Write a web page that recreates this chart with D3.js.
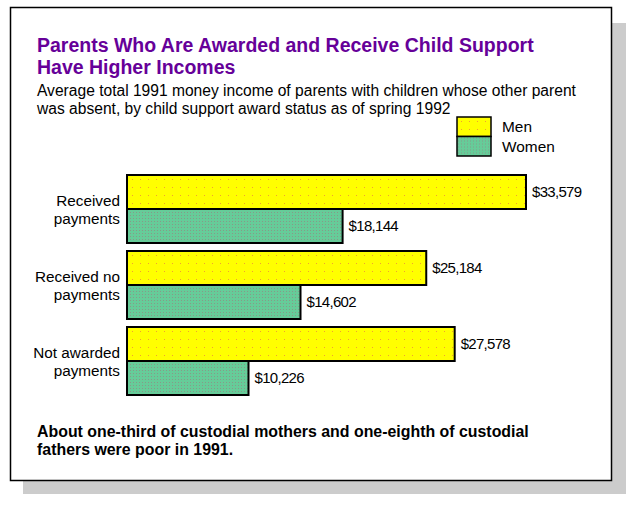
<!DOCTYPE html>
<html>
<head>
<meta charset="utf-8">
<script src="https://cdn.jsdelivr.net/npm/d3@7"></script>
<style>
  body { margin: 0; background: #fff; }
  text { font-family: "Liberation Sans", Arial, Helvetica, sans-serif; }
</style>
</head>
<body>
<div id="chart"></div>
<script>
var width = 636;
var height = 508;

var categories = [["Received", "payments"], ["Received no", "payments"], ["Not awarded", "payments"]];
var series = ["Men", "Women"];
var men = [33579, 25184, 27578];
var women = [18144, 14602, 10226];
var title = ["Parents Who Are Awarded and Receive Child Support", "Have Higher Incomes"];
var subtitle = ["Average total 1991 money income of parents with children whose other parent",
  "was absent, by child support award status as of spring 1992"];
var note = ["About one-third of custodial mothers and one-eighth of custodial",
  "fathers were poor in 1991."];

var svg = d3.select("#chart").append("svg")
  .attr("width", width)
  .attr("height", height);

// dotted fills
var defs = svg.append("defs");
var pm = defs.append("pattern").attr("id", "pat-men")
  .attr("patternUnits", "userSpaceOnUse").attr("width", 8).attr("height", 8);
pm.append("rect").attr("width", 8).attr("height", 8).attr("fill", "#ffff00");
pm.append("rect").attr("x", 4).attr("y", 4).attr("width", 1).attr("height", 1).attr("fill", "#f0a030");

var pw = defs.append("pattern").attr("id", "pat-women")
  .attr("patternUnits", "userSpaceOnUse").attr("width", 3).attr("height", 3);
pw.append("rect").attr("width", 3).attr("height", 3).attr("fill", "#66cc99");
pw.append("rect").attr("x", 1).attr("y", 1).attr("width", 1).attr("height", 1).attr("fill", "#889988");

var fills = { Men: "url(#pat-men)", Women: "url(#pat-women)" };

// shadow and frame
svg.append("rect")
  .attr("x", 23).attr("y", 23).attr("width", 603).attr("height", 471)
  .attr("fill", "#cccccc");
svg.append("rect")
  .attr("x", 10.5).attr("y", 7.5).attr("width", 601).attr("height", 473)
  .attr("fill", "#fff").attr("stroke", "#000").attr("stroke-width", 1.5);

// title, subtitle
svg.selectAll(".title").data(title).enter()
  .append("text")
  .attr("class", "title")
  .attr("x", 37)
  .attr("y", function(d, i) { return 52 + i * 22; })
  .attr("fill", "#660099")
  .attr("font-size", 19.5)
  .attr("font-weight", "bold")
  .text(function(d) { return d; });

svg.selectAll(".subtitle").data(subtitle).enter()
  .append("text")
  .attr("class", "subtitle")
  .attr("x", 37)
  .attr("y", function(d, i) { return 96 + i * 18; })
  .attr("font-size", 15.6)
  .text(function(d) { return d; });

// legend
var legend = svg.selectAll(".legend").data(series).enter()
  .append("g")
  .attr("class", "legend")
  .attr("transform", function(d, i) { return "translate(457," + (117 + i * 19.5) + ")"; });
legend.append("rect")
  .attr("width", 34).attr("height", 19.5)
  .attr("fill", function(d) { return fills[d]; })
  .attr("stroke", "#000").attr("stroke-width", 1.5);
legend.append("text")
  .attr("x", 45).attr("y", 15)
  .attr("font-size", 15.4)
  .text(function(d) { return d; });

// scales
var x = d3.scaleLinear().domain([0, 33579]).range([127, 526]);
var y = d3.scaleBand().domain(d3.range(categories.length)).range([175, 395]).paddingInner(8 / 76);
var ySub = d3.scaleBand().domain(series).range([0, y.bandwidth()]);

var rows = categories.map(function(c, i) {
  return { label: c, values: [{ s: "Men", v: men[i] }, { s: "Women", v: women[i] }] };
});

var group = svg.selectAll(".group").data(rows).enter()
  .append("g")
  .attr("class", "group")
  .attr("transform", function(d, i) { return "translate(0," + y(i) + ")"; });

group.selectAll("rect").data(function(d) { return d.values; }).enter()
  .append("rect")
  .attr("x", x(0))
  .attr("y", function(d) { return ySub(d.s); })
  .attr("width", function(d) { return x(d.v) - x(0); })
  .attr("height", ySub.bandwidth())
  .attr("fill", function(d) { return fills[d.s]; })
  .attr("stroke", "#000")
  .attr("stroke-width", 2);

group.selectAll(".val").data(function(d) { return d.values; }).enter()
  .append("text")
  .attr("class", "val")
  .attr("x", function(d) { return x(d.v) + 6; })
  .attr("y", function(d) { return ySub(d.s) + ySub.bandwidth() / 2 + 5; })
  .attr("font-size", 15)
  .attr("letter-spacing", -0.7)
  .text(function(d) { return "$" + d3.format(",")(d.v); });

group.selectAll(".cat").data(function(d) { return d.label; }).enter()
  .append("text")
  .attr("class", "cat")
  .attr("x", 120)
  .attr("y", function(d, i) { return y.bandwidth() / 2 - 3 + i * 18; })
  .attr("text-anchor", "end")
  .attr("font-size", 15.3)
  .text(function(d) { return d; });

// footnote
svg.selectAll(".note").data(note).enter()
  .append("text")
  .attr("class", "note")
  .attr("x", 37)
  .attr("y", function(d, i) { return 437 + i * 18; })
  .attr("font-size", 15.9)
  .attr("font-weight", "bold")
  .text(function(d) { return d; });
</script>
</body>
</html>
